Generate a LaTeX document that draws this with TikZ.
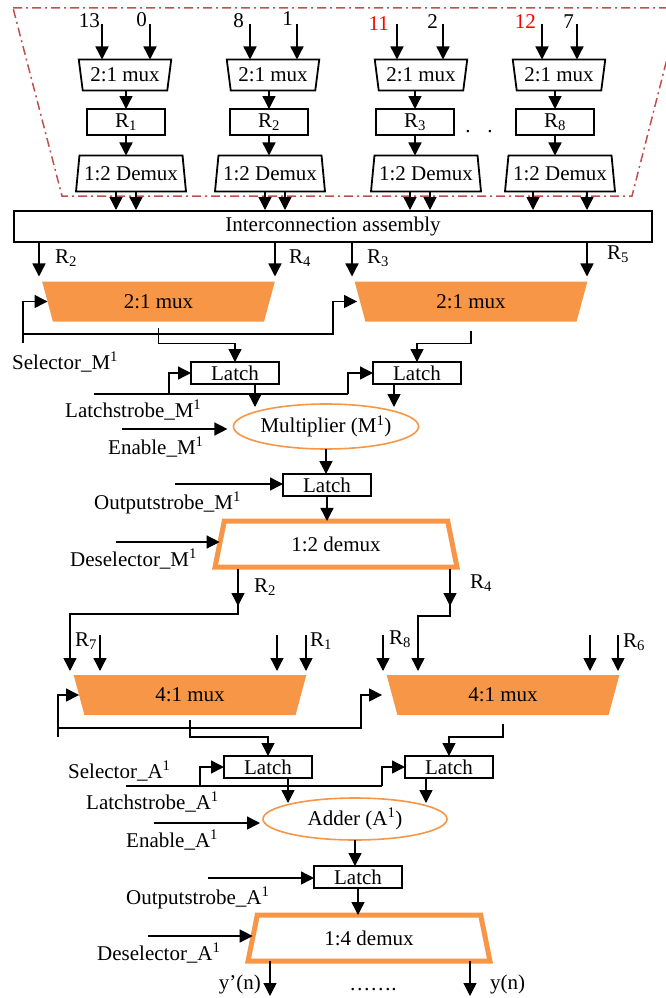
\documentclass[tikz,border=0pt]{standalone}
\usepackage{fontspec}
\setmainfont{Liberation Serif}
\usetikzlibrary{arrows.meta,shapes.geometric}
\definecolor{accorange}{HTML}{F79646}
\definecolor{framered}{HTML}{C0504D}
\tikzset{
  arr/.style={-{Triangle[width=13pt,length=13pt]}, line width=1.4pt},
  regbox/.style={draw, line width=2pt, inner sep=0pt, outer sep=0pt, minimum width=78pt, minimum height=26pt},
  latchbox/.style={draw, line width=2pt, inner sep=0pt, outer sep=0pt, minimum width=88pt, minimum height=22pt},
  muxtrap/.style={trapezium, shape border rotate=180, trapezium angle=77, trapezium stretches=true, draw, line width=1.8pt, inner sep=0pt, outer sep=0pt, minimum width=93pt, minimum height=31pt},
  demuxtrap/.style={trapezium, trapezium angle=77.5, trapezium stretches=true, draw, line width=1.8pt, inner sep=0pt, outer sep=0pt, minimum width=111pt, minimum height=36pt},
  omux/.style={trapezium, shape border rotate=180, trapezium angle=76, trapezium stretches=true, fill=accorange, inner sep=0pt, outer sep=0pt, minimum width=234pt, minimum height=40pt},
  odemux/.style={trapezium, trapezium angle=76, trapezium stretches=true, draw=accorange, line width=5pt, fill=white, inner sep=0pt, outer sep=0pt, minimum width=243pt, minimum height=46pt},
  unit/.style={ellipse, draw=accorange, line width=1.6pt, inner sep=0pt, outer sep=0pt},
  sig/.style={anchor=base west, inner sep=0pt},
  inp/.style={anchor=base east, inner sep=0pt},
}
\begin{document}
\begin{tikzpicture}[x=1pt, y=-1pt, font=\fontsize{21}{25}\selectfont]
\useasboundingbox (0,0) rectangle (666,998);

% frame round the register stage
\draw[framered, line width=1.5pt, dash pattern=on 9pt off 4pt on 2pt off 4pt] (13,8) -- (680,8) -- (632,196) -- (62,196) -- cycle;

% register stage
\node[muxtrap] (mx1) at (125,75) {2:1 mux};
\node[muxtrap] (mx2) at (273,75) {2:1 mux};
\node[muxtrap] (mx3) at (421,75) {2:1 mux};
\node[muxtrap] (mx8) at (559,75) {2:1 mux};
\node[regbox] (r1) at (126,122) {R\textsubscript{1}};
\node[regbox] (r2) at (269,122) {R\textsubscript{2}};
\node[regbox] (r3) at (415,122) {R\textsubscript{3}};
\node[regbox] (r8) at (555,122) {R\textsubscript{8}};
\node[demuxtrap] (dm1) at (131,173.5) {1:2 Demux};
\node[demuxtrap] (dm2) at (270,173.5) {1:2 Demux};
\node[demuxtrap] (dm3) at (426,173.5) {1:2 Demux};
\node[demuxtrap] (dm8) at (560,173.5) {1:2 Demux};
\node (dots) at (479,132) {.\hspace{17pt}.};

\node[inp] (in13) at (100,28) {13};
\node[inp] (in0) at (147,27) {0};
\node[inp] (in8) at (244,28) {8};
\node[inp] (in1) at (293,26) {1};
\node[inp, red] (in11) at (389,31) {11};
\node[inp] (in2) at (438,29) {2};
\node[inp, red] (in12) at (536,29) {12};
\node[inp] (in7) at (574,29) {7};

\foreach \x/\m in {102/mx1,150/mx1,250/mx2,297/mx2,397/mx3,443/mx3,542/mx8,577/mx8}
  \draw[arr] (\x,24) -- (\m.north -| \x,0);
\foreach \r/\m/\d in {r1/mx1/dm1,r2/mx2/dm2,r3/mx3/dm3,r8/mx8/dm8}{
  \draw[arr] (\r.north |- \m.south) -- (\r.north);
  \draw[arr] (\r.south) -- (\r.south |- \d.north);
}

\node[draw, line width=2pt, inner sep=0pt, minimum width=638pt, minimum height=31pt] (ica) at (333,226.5) {Interconnection assembly};
\foreach \x/\d in {116/dm1,136/dm1,265/dm2,285/dm2,410/dm3,430/dm3,533/dm8,587/dm8}
  \draw[arr] (\d.south -| \x,0) -- (ica.north -| \x,0);

% multiplier stage
\node[omux] (omx1) at (158.5,301.5) {2:1 mux};
\node[omux] (omx2) at (471,301.5) {2:1 mux};
\foreach \x in {39,275,352,587}
  \draw[arr, shorten >=5pt] (ica.south -| \x,0) -- (omx1.north -| \x,0);
\node[sig] (lr2) at (55,263) {R\textsubscript{2}};
\node[sig] (lr4) at (289,263) {R\textsubscript{4}};
\node[sig] (lr3) at (367,263) {R\textsubscript{3}};
\node[sig] (lr5) at (607,259) {R\textsubscript{5}};

\coordinate (selM) at (23,343);
\coordinate (selMj) at (23,334);
\coordinate (selMk) at (333,334);
\draw[arr] (selM) |- (omx1.west);
\draw[arr, shorten >=3pt] (selMj) -- (selMk) |- (omx2.west);
\node[sig] (lselM) at (12,369) {Selector\_M\textsuperscript{1}};

\node[latchbox] (lt1) at (235,373) {Latch};
\node[latchbox] (lt2) at (417,373) {Latch};
\draw[arr, shorten <=6pt] (omx1.south) -- ++(0,22) -| (lt1.north);
\draw[arr, shorten <=9pt] (omx2.south) -- ++(0,22) -| (lt2.north);

\coordinate (lsM) at (94,394);
\coordinate (lsMa) at (169,394);
\coordinate (lsMb) at (348,394);
\draw[line width=1.4pt] (lsM) -- (lsMb);
\draw[arr] (lsMa) |- (lt1.west);
\draw[arr] (lsMb) |- (lt2.west);
\node[sig] (llsM) at (65,417) {Latchstrobe\_M\textsuperscript{1}};

\node[unit, minimum width=182pt, minimum height=45pt] (mul) at (326,426.5) {Multiplier (M\textsuperscript{1})};
\draw[arr] ([xshift=20pt]lt1.south) -- ++(0,23);
\draw[arr] ([xshift=-23pt]lt2.south) -- ++(0,23);
\coordinate (enM) at (122,429);
\draw[arr, shorten >=6pt] (enM) -- (enM -| mul.west);
\node[sig] (lenM) at (108,454) {Enable\_M\textsuperscript{1}};

\node[latchbox] (lt3) at (327,485) {Latch};
\draw[arr] (mul.south) -- (mul.south |- lt3.north);
\coordinate (osM) at (175,484);
\draw[arr] (osM) -- (osM -| lt3.west);
\node[sig] (losM) at (94,509) {Outputstrobe\_M\textsuperscript{1}};

\node[odemux] (dmxM) at (336,544) {1:2 demux};
\draw[arr] (lt3.south) -- (lt3.south |- dmxM.north);
\coordinate (dsM) at (116,542);
\draw[arr] (dsM) -- (dsM -| dmxM.west);
\node[sig] (ldsM) at (70,566) {Deselector\_M\textsuperscript{1}};

% routing to the adder stage
\coordinate (q2) at (238,569);
\coordinate (k2) at (238,614);
\coordinate (q4) at (450,569);
\coordinate (k4) at (450,616);
\node[omux] (mxA1) at (190,695) {4:1 mux};
\node[omux] (mxA2) at (503,695) {4:1 mux};
\draw[arr] (q2) -- ++(0,37);
\draw[arr, shorten >=4pt] (q2) -- (k2) -| (mxA1.north -| 70,0);
\draw[arr] (q4) -- ++(0,37);
\draw[arr, shorten >=4pt] (q4) -- (k4) -| (mxA2.north -| 418,0);
\node[sig] (lq2) at (254,592) {R\textsubscript{2}};
\node[sig] (lq4) at (470,588) {R\textsubscript{4}};

\foreach \x/\m in {100/mxA1,277/mxA1,306/mxA1,383/mxA2,590/mxA2,618/mxA2}
  \draw[arr, shorten >=4pt] (\x,635) -- (\m.north -| \x,0);
\node[sig] (lr7) at (75,646) {R\textsubscript{7}};
\node[sig] (lr1) at (310,646) {R\textsubscript{1}};
\node[sig] (lr8) at (389,644) {R\textsubscript{8}};
\node[sig] (lr6) at (623,647) {R\textsubscript{6}};

\coordinate (sA) at (58,737);
\coordinate (sAj) at (58,728);
\coordinate (sAk) at (361,728);
\draw[arr] (sA) |- (mxA1.west);
\draw[arr, shorten >=10pt] (sAj) -- (sAk) |- (mxA2.west);
\node[sig] (lsA) at (68,778) {Selector\_A\textsuperscript{1}};

\node[latchbox] (ltA1) at (268,767) {Latch};
\node[latchbox] (ltA2) at (449,767) {Latch};
\draw[arr, shorten <=5pt] (mxA1.south) -- ++(0,22) -| (ltA1.north);
\draw[arr, shorten <=9pt] (mxA2.south) -- ++(0,22) -| (ltA2.north);

\coordinate (lsA) at (126,786);
\coordinate (lsAa) at (200,786);
\coordinate (lsAb) at (382,786);
\draw[line width=1.4pt] (lsA) -- (lsAb);
\draw[arr] (lsAa) |- (ltA1.west);
\draw[arr] (lsAb) |- (ltA2.west);
\node[sig] (llsA) at (86,809) {Latchstrobe\_A\textsuperscript{1}};

\node[unit, minimum width=184pt, minimum height=42pt] (add) at (355,819) {Adder (A\textsuperscript{1})};
\draw[arr] ([xshift=20pt]ltA1.south) -- ++(0,25);
\draw[arr] ([xshift=-23pt]ltA2.south) -- ++(0,25);
\coordinate (enA) at (154,823);
\draw[arr, shorten >=3pt] (enA) -- (enA -| add.west);
\node[sig] (lenA) at (126,847) {Enable\_A\textsuperscript{1}};

\node[latchbox] (ltA3) at (358,877) {Latch};
\draw[arr] (add.south) -- (add.south |- ltA3.north);
\coordinate (osA) at (208,878);
\draw[arr] (osA) -- (osA -| ltA3.west);
\node[sig] (losA) at (126,904) {Outputstrobe\_A\textsuperscript{1}};

\node[odemux] (dmxA) at (369,938) {1:4 demux};
\draw[arr] (ltA3.south) -- (ltA3.south |- dmxA.north);
\coordinate (dsA) at (148,936);
\draw[arr] (dsA) -- (dsA -| dmxA.west);
\node[sig] (ldsA) at (97,960) {Deselector\_A\textsuperscript{1}};

\coordinate (yo1) at (270,996);
\coordinate (yo2) at (470,996);
\draw[arr] (dmxA.south -| yo1) -- (yo1);
\draw[arr] (dmxA.south -| yo2) -- (yo2);
\node[inp] (lyo1) at (261,989) {y’(n)};
\node[sig] (lyo2) at (490,989) {y(n)};
\node[anchor=base, inner sep=0pt] (ldots) at (373,990) {…….};

\end{tikzpicture}
\end{document}
